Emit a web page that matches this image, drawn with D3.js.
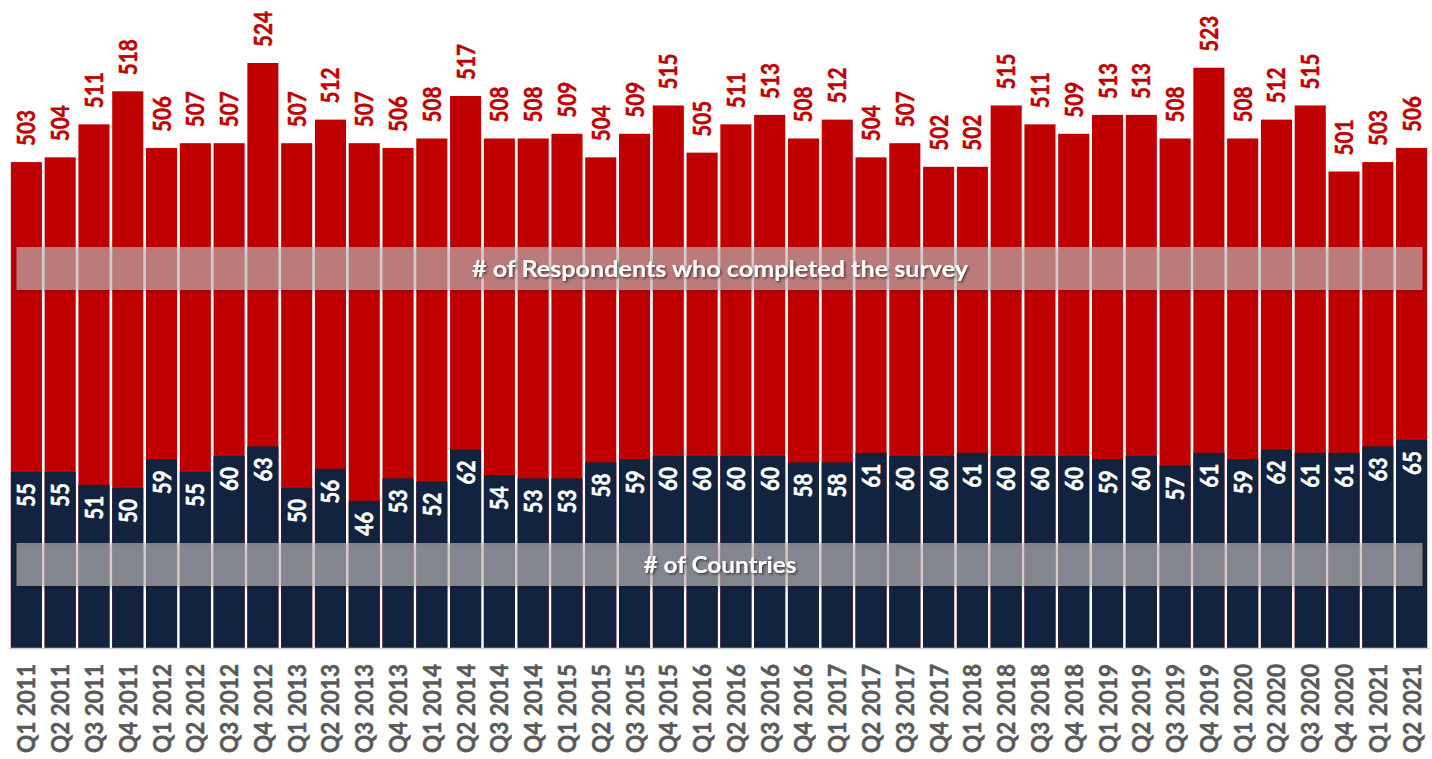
<!DOCTYPE html>
<html>
<head>
<meta charset="utf-8">
<script src="https://cdn.jsdelivr.net/npm/d3@7"></script>
<style>
  html, body { margin: 0; padding: 0; background: #ffffff; }
  svg { display: block; }
  text { font-family: Lato, "Open Sans", "Liberation Sans", sans-serif; font-weight: 700; }
</style>
</head>
<body>
<svg id="chart" width="1432" height="759"></svg>
<script>
const categories = [
  "Q1 2011","Q2 2011","Q3 2011","Q4 2011",
  "Q1 2012","Q2 2012","Q3 2012","Q4 2012",
  "Q1 2013","Q2 2013","Q3 2013","Q4 2013",
  "Q1 2014","Q2 2014","Q3 2014","Q4 2014",
  "Q1 2015","Q2 2015","Q3 2015","Q4 2015",
  "Q1 2016","Q2 2016","Q3 2016","Q4 2016",
  "Q1 2017","Q2 2017","Q3 2017","Q4 2017",
  "Q1 2018","Q2 2018","Q3 2018","Q4 2018",
  "Q1 2019","Q2 2019","Q3 2019","Q4 2019",
  "Q1 2020","Q2 2020","Q3 2020","Q4 2020",
  "Q1 2021","Q2 2021"
];
const respondents = [
  503,504,511,518, 506,507,507,524, 507,512,507,506,
  508,517,508,508, 509,504,509,515, 505,511,513,508,
  512,504,507,502, 502,515,511,509, 513,513,508,523,
  508,512,515,501, 503,506
];
const countries = [
  55,55,51,50, 59,55,60,63, 50,56,46,53,
  52,62,54,53, 53,58,59,60, 60,60,60,58,
  58,61,60,60, 61,60,60,60, 59,60,57,61,
  59,62,61,61, 63,65
];
const bandLabels = ["# of Respondents who completed the survey", "# of Countries"];

const W = 1432, H = 759;
const baseY = 648;
const RED = "#C00000", NAVY = "#122340", GREY = "#595959";

const svg = d3.select("#chart");
const defs = svg.append("defs");
const sh = defs.append("filter").attr("id","bandShadow").attr("x","-5%").attr("y","-30%").attr("width","110%").attr("height","170%");
sh.append("feDropShadow").attr("dx",0).attr("dy",2).attr("stdDeviation",2).attr("flood-color","#000").attr("flood-opacity",0.35);
const ts = defs.append("filter").attr("id","textShadow").attr("x","-10%").attr("y","-30%").attr("width","120%").attr("height","170%");
ts.append("feDropShadow").attr("dx",1.5).attr("dy",1.5).attr("stdDeviation",1.2).attr("flood-color","#000").attr("flood-opacity",0.55);

const x = d3.scaleBand().domain(categories).range([9.5, 1428.5]).paddingInner(0.08).paddingOuter(0.04);
// primary axis: countries (0-based), secondary: respondents (starts at 400)
const yC = d3.scaleLinear().domain([0, 200]).range([baseY, baseY - 640]);
const yR = d3.scaleLinear().domain([400, 535]).range([baseY, baseY - 135 * (585 / 124)]);

const data = categories.map((c, i) => ({ c, r: respondents[i], n: countries[i] }));

// red bars (respondents) from baseline
svg.append("g").selectAll("rect").data(data).join("rect")
  .attr("x", d => x(d.c)).attr("width", x.bandwidth())
  .attr("y", d => yR(d.r)).attr("height", d => baseY - yR(d.r))
  .attr("fill", RED);

// navy bars (countries)
svg.append("g").selectAll("rect").data(data).join("rect")
  .attr("x", d => x(d.c)).attr("width", x.bandwidth())
  .attr("y", d => yC(d.n)).attr("height", d => baseY - yC(d.n))
  .attr("fill", NAVY);

// axis line
svg.append("line").attr("x1", 9).attr("x2", 1430).attr("y1", baseY + 0.5).attr("y2", baseY + 0.5)
  .attr("stroke", "#d0d0d0").attr("stroke-width", 1.5);

// red value labels
svg.append("g").selectAll("text").data(data).join("text")
  .attr("transform", d => `translate(${x(d.c) + x.bandwidth() / 2},${yR(d.r) - 16}) rotate(-90)`)
  .attr("dy", "0.36em")
  .attr("text-anchor", "start")
  .attr("font-size", 25)
  .attr("textLength", d => String(d.r).length * 12)
  .attr("lengthAdjust", "spacingAndGlyphs")
  .attr("fill", RED).attr("stroke", RED).attr("stroke-width", 0.5)
  .text(d => d.r);

// white country labels
svg.append("g").selectAll("text").data(data).join("text")
  .attr("transform", d => `translate(${x(d.c) + x.bandwidth() / 2},${yC(d.n) + 11}) rotate(-90)`)
  .attr("dy", "0.36em")
  .attr("text-anchor", "end")
  .attr("font-size", 25)
  .attr("textLength", d => String(d.n).length * 12)
  .attr("lengthAdjust", "spacingAndGlyphs")
  .attr("fill", "#ffffff").attr("stroke", "#ffffff").attr("stroke-width", 0.5)
  .text(d => d.n);

// category labels
svg.append("g").selectAll("text").data(categories).join("text")
  .attr("transform", d => `translate(${x(d) + x.bandwidth() / 2},${baseY + 16}) rotate(-90)`)
  .attr("dy", "0.36em")
  .attr("text-anchor", "end")
  .attr("font-size", 25)
  .attr("textLength", 89)
  .attr("lengthAdjust", "spacingAndGlyphs")
  .attr("fill", GREY).attr("stroke", GREY).attr("stroke-width", 0.5)
  .text(d => d);

// annotation bands
const bands = [
  { label: bandLabels[0], y0: 247, y1: 290, len: 496 },
  { label: bandLabels[1], y0: 543, y1: 586, len: 153 }
];
const bx0 = 16.5, bx1 = 1422.5;
const bg = svg.append("g");
bg.selectAll("rect").data(bands).join("rect")
  .attr("x", bx0).attr("width", bx1 - bx0)
  .attr("y", d => d.y0).attr("height", d => d.y1 - d.y0)
  .attr("fill", "#c4bebe").attr("fill-opacity", 0.6)
  .attr("filter", "url(#bandShadow)");
bg.selectAll("text").data(bands).join("text")
  .attr("x", (bx0 + bx1) / 2 + 0.5)
  .attr("y", d => (d.y0 + d.y1) / 2)
  .attr("dy", "0.36em")
  .attr("text-anchor", "middle")
  .attr("font-size", 23)
  .attr("textLength", d => d.len)
  .attr("lengthAdjust", "spacingAndGlyphs")
  .attr("fill", "#ffffff")
  .attr("filter", "url(#textShadow)")
  .text(d => d.label);
</script>
</body>
</html>
